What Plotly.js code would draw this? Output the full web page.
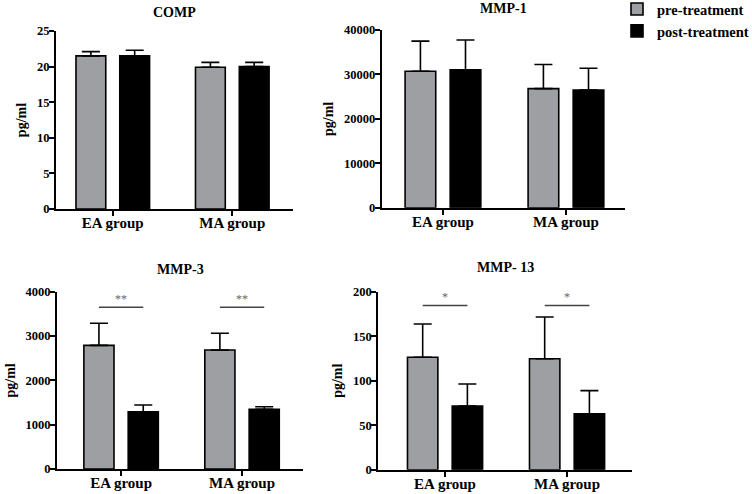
<!DOCTYPE html>
<html>
<head>
<meta charset="utf-8">
<script src="https://cdn.plot.ly/plotly-3.0.1.min.js"></script>
<style>html,body{margin:0;padding:0;background:#fff;}#chart{width:752px;height:494px;}</style>
</head>
<body>
<div id="chart"></div>
<script>
// ---- data ----
const categories = ['EA group', 'MA group'];
const seriesNames = ['pre-treatment', 'post-treatment'];
const panelTitles = ['COMP', 'MMP-1', 'MMP-3', 'MMP- 13'];

const compPre = [21.5, 19.9];
const compPreErr = [0.6, 0.7];
const compPost = [21.5, 20.0];
const compPostErr = [0.8, 0.6];

const mmp1Pre = [30700, 26800];
const mmp1PreErr = [6800, 5450];
const mmp1Post = [31050, 26500];
const mmp1PostErr = [6700, 4900];

const mmp3Pre = [2790, 2685];
const mmp3PreErr = [497, 376];
const mmp3Post = [1293, 1347];
const mmp3PostErr = [151, 59];

const mmp13Pre = [126.3, 124.7];
const mmp13PreErr = [37.4, 46.9];
const mmp13Post = [71.6, 62.9];
const mmp13PostErr = [24.7, 25.9];

const mmp3SigLabels = ['**', '**'];
const mmp3SigY = [3650, 3650];
const mmp13SigLabels = ['*', '*'];
const mmp13SigY = [184.5, 184.5];

const yTickStep = [5, 10000, 1000, 50];
const yMax = [25, 40000, 4000, 200];

// ---- styling ----
const FONT = 'Liberation Serif';
const preColor = '#9e9fa3';
const postColor = '#000000';

const panels = [
  {pre: compPre, preErr: compPreErr, post: compPost, postErr: compPostErr,
   xd: [56/752, 293/752], yd: [1-209/494, 1-31/494], xr: [-0.475, 1.508], ty: 1-13/494},
  {pre: mmp1Pre, preErr: mmp1PreErr, post: mmp1Post, postErr: mmp1PostErr,
   xd: [381.7/752, 625/752], yd: [1-207.7/494, 1-30/494], xr: [-0.498, 1.48], ty: 1-8/494},
  {pre: mmp3Pre, preErr: mmp3PreErr, post: mmp3Post, postErr: mmp3PostErr,
   xd: [57/752, 303/752], yd: [1-469/494, 1-291.7/494], xr: [-0.53, 1.504], ty: 1-269/494,
   sig: mmp3SigLabels, sigY: mmp3SigY},
  {pre: mmp13Pre, preErr: mmp13PreErr, post: mmp13Post, postErr: mmp13PostErr,
   xd: [378.3/752, 631.7/752], yd: [1-469.7/494, 1-291.7/494], xr: [-0.547, 1.53], ty: 1-267/494,
   sig: mmp13SigLabels, sigY: mmp13SigY}
];

const traces = [];
const layout = {
  width: 752, height: 494,
  margin: {l: 0, r: 0, t: 0, b: 0, autoexpand: false},
  paper_bgcolor: '#fff', plot_bgcolor: '#fff',
  barmode: 'group', bargap: 0.267, bargroupgap: 0.32,
  font: {family: FONT, color: '#000', size: 13, weight: 700},
  showlegend: true,
  legend: {x: 617/752, y: 1.014, xanchor: 'left', yanchor: 'top',
           font: {family: FONT, size: 14.5, color: '#000', weight: 700},
           bgcolor: 'rgba(0,0,0,0)', tracegroupgap: 0, itemwidth: 30},
  annotations: [], shapes: []
};

const slotHalf = (1 - layout.bargap) / 4; // offset of each bar centre from category centre

panels.forEach((p, i) => {
  const n = i === 0 ? '' : String(i + 1);
  const xa = 'x' + n, ya = 'y' + n;
  const errStyle = (arr) => ({type: 'data', array: arr, arrayminus: arr.map(() => 0),
      symmetric: false, visible: true, color: '#000', thickness: 1.6, width: 9});
  traces.push({type: 'bar', x: categories, y: p.pre, name: seriesNames[0],
    xaxis: xa, yaxis: ya, marker: {color: preColor, line: {color: '#000', width: 1.6}},
    error_y: errStyle(p.preErr), showlegend: i === 0, legendgroup: 'pre', hoverinfo: 'skip'});
  traces.push({type: 'bar', x: categories, y: p.post, name: seriesNames[1],
    xaxis: xa, yaxis: ya, marker: {color: postColor, line: {color: '#000', width: 1.6}},
    error_y: errStyle(p.postErr), showlegend: i === 0, legendgroup: 'post', hoverinfo: 'skip'});

  layout['xaxis' + n] = {
    domain: p.xd, anchor: ya, type: 'category', range: p.xr,
    showline: true, linecolor: '#000', linewidth: 2,
    ticks: 'outside', ticklen: 5, tickwidth: 2, tickcolor: '#000',
    showgrid: false, zeroline: false, ticklabelstandoff: -6,
    tickfont: {family: FONT, size: 15, color: '#000', weight: 700}
  };
  layout['yaxis' + n] = {
    domain: p.yd, anchor: xa, range: [0, yMax[i]], dtick: yTickStep[i], tick0: 0,
    showline: true, linecolor: '#000', linewidth: 2,
    ticks: 'outside', ticklen: 5, tickwidth: 2, tickcolor: '#000',
    showgrid: false, zeroline: false, tickformat: 'd', ticklabelstandoff: -3,
    tickfont: {family: FONT, size: 12.5, color: '#000', weight: 700},
    title: {text: 'pg/ml', standoff: 7, font: {family: FONT, size: 14, color: '#000', weight: 700}}
  };

  layout.annotations.push({
    xref: 'paper', yref: 'paper', x: (p.xd[0] + p.xd[1]) / 2, y: p.ty,
    xanchor: 'center', yanchor: 'middle', showarrow: false,
    text: panelTitles[i], font: {family: FONT, size: 14, color: '#000', weight: 700}
  });

  if (p.sig) {
    categories.forEach((c, k) => {
      layout.shapes.push({type: 'line', xref: xa, yref: ya,
        x0: k - slotHalf, x1: k + slotHalf, y0: p.sigY[k], y1: p.sigY[k],
        line: {color: '#444', width: 1.5}});
      layout.annotations.push({xref: xa, yref: ya, x: k, y: p.sigY[k],
        xanchor: 'center', yanchor: 'bottom', showarrow: false, yshift: -1,
        text: p.sig[k], font: {family: FONT, size: 12, color: '#666', weight: 400}});
    });
  }
});

Plotly.newPlot('chart', traces, layout, {displayModeBar: false, staticPlot: true});
</script>
</body>
</html>
